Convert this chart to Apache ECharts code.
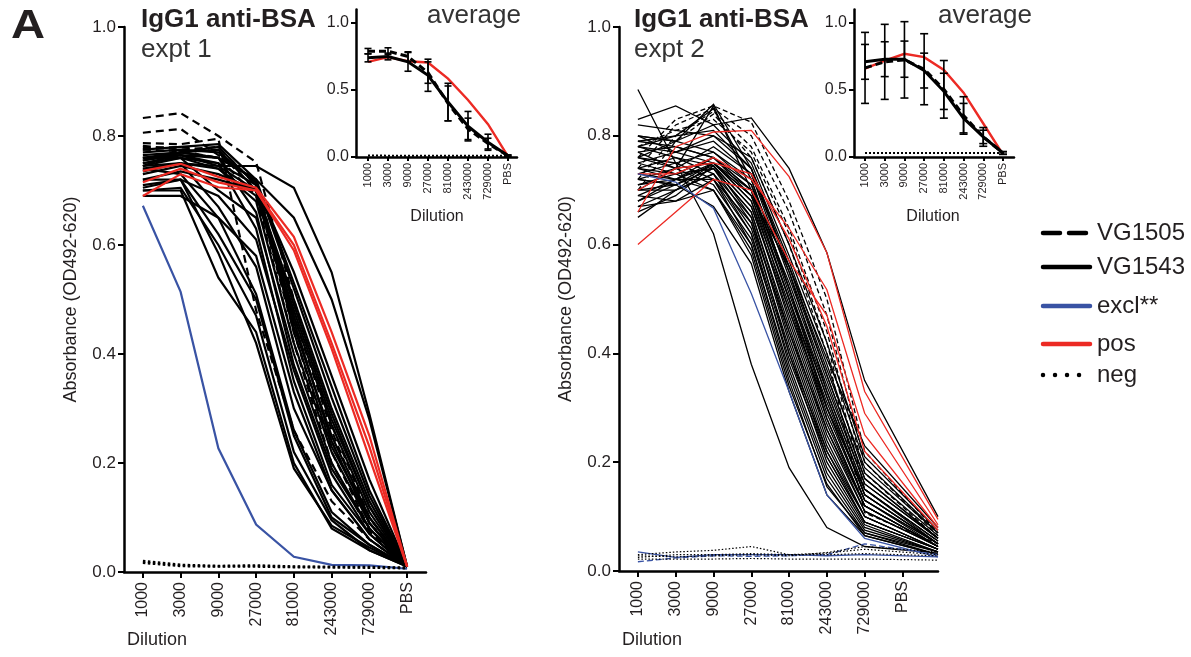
<!DOCTYPE html>
<html><head><meta charset="utf-8">
<script src="https://cdn.jsdelivr.net/npm/echarts@6/dist/echarts.min.js"></script>
<style>html,body{margin:0;padding:0;background:#fff}#c{width:1191px;height:657px}</style>
</head><body><div id="c"></div>
<script>
// ---------- tick labels / categories ----------
const dilutions = ['1000','3000','9000','27000','81000','243000','729000','PBS'];
// x position of each dilution step (category index) as plotted in each panel
const stepPos1 = [0,1,2,3,4,5,6,7];
const stepPos2 = [0,1,2,3,4,5,6,7.94];
const legendNames = ['VG1505','VG1543','excl**','pos','neg'];

// ---------- expt 1 individual curves ----------
const expt1_VG1505 = [
 [0.833,0.842,0.800,0.752,0.50,0.27,0.10,0.01],
 [0.806,0.813,0.765,0.720,0.46,0.24,0.09,0.01],
 [0.787,0.785,0.795,0.480,0.26,0.13,0.06,0.01],
 [0.782,0.775,0.780,0.710,0.47,0.26,0.09,0.01],
 [0.778,0.780,0.770,0.700,0.44,0.22,0.08,0.01],
 [0.775,0.772,0.760,0.690,0.42,0.20,0.075,0.01]
];
const expt1_VG1543 = [
 [0.755,0.765,0.745,0.745,0.705,0.55,0.29,0.01],
 [0.745,0.770,0.760,0.720,0.650,0.50,0.28,0.01],
 [0.700,0.700,0.540,0.440,0.200,0.080,0.040,0.01],
 [0.710,0.720,0.585,0.420,0.190,0.085,0.045,0.01],
 [0.720,0.720,0.620,0.500,0.250,0.100,0.050,0.01],
 [0.740,0.730,0.650,0.510,0.260,0.110,0.050,0.01],
 [0.745,0.750,0.670,0.560,0.300,0.150,0.060,0.01],
 [0.700,0.705,0.600,0.470,0.220,0.095,0.040,0.01],
 [0.760,0.765,0.750,0.630,0.350,0.160,0.070,0.01],
 [0.765,0.770,0.760,0.660,0.380,0.190,0.080,0.01],
 [0.750,0.760,0.740,0.680,0.420,0.220,0.090,0.01],
 [0.755,0.770,0.775,0.700,0.450,0.250,0.100,0.01],
 [0.760,0.770,0.780,0.710,0.470,0.270,0.110,0.01],
 [0.740,0.750,0.740,0.690,0.480,0.280,0.120,0.01],
 [0.730,0.745,0.730,0.700,0.500,0.300,0.130,0.01],
 [0.770,0.775,0.770,0.715,0.520,0.320,0.140,0.01],
 [0.750,0.765,0.760,0.720,0.530,0.340,0.150,0.01],
 [0.745,0.760,0.750,0.710,0.550,0.360,0.170,0.01],
 [0.720,0.735,0.720,0.700,0.460,0.240,0.090,0.01],
 [0.690,0.690,0.650,0.580,0.330,0.150,0.060,0.01],
 [0.705,0.720,0.690,0.610,0.370,0.180,0.070,0.01],
 [0.760,0.760,0.700,0.650,0.400,0.200,0.080,0.01],
 [0.775,0.780,0.785,0.720,0.440,0.230,0.100,0.01],
 [0.735,0.750,0.745,0.700,0.490,0.290,0.120,0.01]
];
const expt1_excl = [
 [0.672,0.514,0.227,0.087,0.028,0.013,0.012,0.006]
];
const expt1_pos = [
 [0.736,0.749,0.725,0.705,0.615,0.44,0.25,0.01],
 [0.690,0.730,0.706,0.700,0.600,0.42,0.23,0.01],
 [0.715,0.740,0.715,0.700,0.590,0.41,0.21,0.01]
];
const expt1_neg = [
 [0.020,0.013,0.011,0.012,0.010,0.009,0.009,0.008],
 [0.017,0.011,0.010,0.010,0.009,0.009,0.008,0.007]
];

// ---------- expt 2 individual curves ----------
const expt2_VG1505 = [
 [0.76,0.83,0.855,0.825,0.68,0.50,0.22,0.07],
 [0.74,0.82,0.850,0.800,0.66,0.47,0.20,0.065],
 [0.72,0.80,0.845,0.780,0.63,0.44,0.18,0.06],
 [0.70,0.79,0.840,0.760,0.60,0.40,0.107,0.05],
 [0.78,0.81,0.830,0.770,0.62,0.42,0.15,0.055]
];
const expt2_VG1543 = [
 [0.830,0.855,0.820,0.833,0.740,0.585,0.350,0.100],
 [0.885,0.750,0.620,0.380,0.190,0.080,0.045,0.033],
 [0.800,0.790,0.858,0.740,0.550,0.330,0.150,0.050],
 [0.780,0.800,0.850,0.720,0.520,0.300,0.130,0.045],
 [0.700,0.740,0.855,0.700,0.500,0.280,0.120,0.045],
 [0.800,0.790,0.770,0.720,0.520,0.320,0.140,0.050],
 [0.790,0.780,0.760,0.700,0.500,0.300,0.130,0.050],
 [0.780,0.770,0.750,0.690,0.480,0.280,0.120,0.045],
 [0.770,0.780,0.760,0.710,0.550,0.360,0.170,0.060],
 [0.760,0.740,0.750,0.680,0.460,0.260,0.110,0.045],
 [0.750,0.730,0.740,0.660,0.440,0.240,0.100,0.040],
 [0.740,0.760,0.745,0.670,0.470,0.270,0.120,0.045],
 [0.730,0.720,0.745,0.650,0.420,0.220,0.090,0.040],
 [0.720,0.710,0.740,0.640,0.400,0.200,0.085,0.035],
 [0.710,0.730,0.760,0.690,0.500,0.310,0.140,0.050],
 [0.700,0.700,0.730,0.620,0.380,0.190,0.080,0.035],
 [0.690,0.720,0.750,0.680,0.490,0.290,0.130,0.050],
 [0.680,0.710,0.740,0.660,0.450,0.250,0.110,0.045],
 [0.670,0.700,0.730,0.630,0.410,0.210,0.090,0.040],
 [0.660,0.690,0.745,0.670,0.480,0.300,0.150,0.055],
 [0.650,0.700,0.750,0.700,0.530,0.340,0.160,0.060],
 [0.800,0.770,0.800,0.740,0.570,0.380,0.180,0.065],
 [0.770,0.740,0.780,0.730,0.560,0.370,0.190,0.070],
 [0.760,0.750,0.720,0.600,0.360,0.170,0.070,0.035],
 [0.740,0.720,0.700,0.580,0.340,0.160,0.065,0.030],
 [0.720,0.740,0.710,0.610,0.390,0.210,0.090,0.040],
 [0.780,0.760,0.730,0.650,0.430,0.230,0.100,0.040],
 [0.750,0.770,0.790,0.730,0.540,0.350,0.160,0.060],
 [0.730,0.750,0.770,0.710,0.510,0.320,0.140,0.050],
 [0.710,0.720,0.720,0.640,0.440,0.260,0.120,0.045],
 [0.690,0.680,0.700,0.600,0.370,0.180,0.075,0.035],
 [0.680,0.720,0.760,0.700,0.520,0.330,0.150,0.055],
 [0.670,0.680,0.720,0.620,0.400,0.220,0.100,0.040],
 [0.760,0.790,0.820,0.750,0.580,0.400,0.200,0.070],
 [0.820,0.810,0.800,0.760,0.600,0.420,0.210,0.075],
 [0.790,0.800,0.810,0.740,0.560,0.360,0.170,0.060],
 [0.700,0.710,0.750,0.690,0.560,0.390,0.230,0.080],
 [0.720,0.710,0.670,0.565,0.330,0.140,0.065,0.030],
 [0.740,0.730,0.700,0.590,0.350,0.155,0.070,0.030]
];
const expt2_excl = [
 [0.730,0.715,0.667,0.510,0.330,0.140,0.060,0.026],
 [0.035,0.025,0.030,0.030,0.030,0.028,0.030,0.026]
];
const expt2_exclDashed = [
 [0.017,0.024,0.028,0.027,0.028,0.030,0.050,0.030]
];
const expt2_pos = [
 [0.600,0.660,0.720,0.700,0.570,0.470,0.250,0.080],
 [0.660,0.780,0.807,0.810,0.725,0.585,0.330,0.095],
 [0.730,0.730,0.760,0.720,0.630,0.517,0.290,0.085],
 [0.700,0.740,0.750,0.730,0.610,0.450,0.220,0.075]
];
const expt2_neg = [
 [0.030,0.035,0.038,0.045,0.030,0.033,0.040,0.030],
 [0.025,0.030,0.030,0.032,0.030,0.030,0.032,0.028],
 [0.022,0.022,0.022,0.023,0.022,0.022,0.022,0.020],
 [0.028,0.026,0.028,0.030,0.028,0.034,0.045,0.035]
];

// ---------- averages (insets) ----------
const avg1_VG1543 = [0.74,0.75,0.71,0.61,0.41,0.23,0.11,0.01];
const sd1_VG1543  = [0.03,0.025,0.07,0.12,0.14,0.11,0.06,0.005];
const avg1_VG1505 = [0.79,0.79,0.75,0.63,0.40,0.21,0.10,0.01];
const sd1_VG1505  = [0.02,0.025,0.035,0.08,0.13,0.08,0.04,0.005];
const avg1_pos    = [0.71,0.745,0.715,0.705,0.585,0.425,0.245,0.005];
const avg1_neg    = [0.012,0.010,0.010,0.010,0.010,0.010,0.010,0.008];

const avg2_VG1543 = [0.71,0.73,0.73,0.645,0.49,0.29,0.15,0.03];
const sd2_VG1543  = [0.13,0.13,0.135,0.13,0.135,0.11,0.05,0.01];
const avg2_VG1505 = [0.665,0.71,0.725,0.655,0.505,0.31,0.15,0.03];
const sd2_VG1505  = [0.265,0.28,0.285,0.265,0.215,0.14,0.07,0.01];
const avg2_pos    = [0.66,0.72,0.77,0.745,0.65,0.48,0.25,0.02];
const avg2_neg    = [0.03,0.03,0.03,0.03,0.03,0.03,0.03,0.03];

// ---------- styling ----------
const FF = '"Liberation Sans", Arial, Helvetica, sans-serif';
const TXT = '#231f20';
const BLACK = '#000000';
const BLUE = '#3953a4';
const RED = '#ec2a24';
const stepIdx = dilutions.map((_, i) => i);

function lineSet(rows, xs, axis, color, width, dash, z) {
  return rows.map(r => ({
    type: 'line', xAxisIndex: axis, yAxisIndex: axis,
    data: r.map((v, i) => [xs[i], v]),
    symbol: 'none', silent: true, animation: false, z: z,
    lineStyle: { color: color, width: width, type: dash || 'solid', cap: 'butt', join: 'miter' }
  }));
}
function errSeries(axis, mean, sd, xs, half) {
  return {
    type: 'custom', xAxisIndex: axis, yAxisIndex: axis, silent: true, animation: false, z: 6,
    data: mean.map((m, i) => [xs[i], m - sd[i], m + sd[i]]),
    encode: { x: 0, y: [1, 2] },
    renderItem: (p, api) => {
      const x = api.value(0);
      const a = api.coord([x, api.value(1)]), b = api.coord([x, api.value(2)]);
      const st = { stroke: '#000', lineWidth: 1.6 };
      return { type: 'group', children: [
        { type: 'line', shape: { x1: a[0], y1: a[1], x2: b[0], y2: b[1] }, style: st },
        { type: 'line', shape: { x1: a[0] - half, y1: a[1], x2: a[0] + half, y2: a[1] }, style: st },
        { type: 'line', shape: { x1: b[0] - half, y1: b[1], x2: b[0] + half, y2: b[1] }, style: st }
      ]};
    }
  };
}
function xAxisDef(grid, min, max, fs, margin, tickLen, lw) {
  return {
    type: 'value', gridIndex: grid, min: min, max: max,
    axisLine: { show: true, onZero: false, lineStyle: { color: BLACK, width: lw } },
    axisTick: { show: true, customValues: stepIdx, length: tickLen, lineStyle: { color: BLACK, width: lw * 0.8 } },
    axisLabel: { show: true, customValues: stepIdx, rotate: 90, margin: margin, fontSize: fs, color: TXT, fontFamily: FF,
      formatter: v => dilutions[Math.round(v)] },
    splitLine: { show: false }
  };
}
function yAxisDef(grid, max, ticks, fs, margin, tickLen, lw, name) {
  const ax = {
    type: 'value', gridIndex: grid, min: 0, max: max,
    axisLine: { show: true, onZero: false, lineStyle: { color: BLACK, width: lw } },
    axisTick: { show: true, customValues: ticks, length: tickLen, lineStyle: { color: BLACK, width: lw * 0.8 } },
    axisLabel: { show: true, customValues: ticks, fontSize: fs, margin: margin, color: TXT, fontFamily: FF, formatter: v => v.toFixed(1) },
    splitLine: { show: false }
  };
  if (name) {
    ax.name = name; ax.nameLocation = 'middle'; ax.nameGap = 44;
    ax.nameTextStyle = { fontSize: 18, color: TXT, fontFamily: FF };
  }
  return ax;
}

const mainTicks = [0, 0.2, 0.4, 0.6, 0.8, 1.0];
const insetTicks = [0, 0.5, 1.0];

const series = [].concat(
  // expt1 main (axis 0)
  lineSet(expt1_VG1543, stepPos1, 0, BLACK, 2.2, null, 2),
  lineSet(expt1_VG1505, stepPos1, 0, BLACK, 2.2, [8, 5], 3),
  lineSet(expt1_pos, stepPos1, 0, RED, 2.2, null, 4),
  lineSet(expt1_excl, stepPos1, 0, BLUE, 2.2, null, 4),
  lineSet(expt1_neg, stepPos1, 0, BLACK, 2.6, [2.5, 2.5], 4),
  // expt1 inset (axis 1)
  lineSet([avg1_pos], stepPos1, 1, RED, 2.4, null, 3),
  lineSet([avg1_neg], stepPos1, 1, BLACK, 2, [2, 2], 3),
  lineSet([avg1_VG1505], stepPos1, 1, BLACK, 3, [7, 4], 4),
  lineSet([avg1_VG1543], stepPos1, 1, BLACK, 3, null, 4),
  [errSeries(1, avg1_VG1505, sd1_VG1505, stepPos1, 3.5), errSeries(1, avg1_VG1543, sd1_VG1543, stepPos1, 3.5)],
  // expt2 main (axis 2)
  lineSet(expt2_VG1543, stepPos2, 2, BLACK, 1.3, null, 2),
  lineSet(expt2_VG1505, stepPos2, 2, BLACK, 1.3, [5, 3], 3),
  lineSet(expt2_pos, stepPos2, 2, RED, 1.3, null, 4),
  lineSet(expt2_excl, stepPos2, 2, BLUE, 1.3, null, 4),
  lineSet(expt2_exclDashed, stepPos2, 2, BLUE, 1.3, [6, 3], 4),
  lineSet(expt2_neg, stepPos2, 2, BLACK, 1.2, [1.5, 2], 4),
  // expt2 inset (axis 3)
  lineSet([avg2_pos], stepPos1, 3, RED, 2.4, null, 3),
  lineSet([avg2_neg], stepPos1, 3, BLACK, 2, [2, 2], 3),
  lineSet([avg2_VG1505], stepPos1, 3, BLACK, 3, [7, 4], 4),
  lineSet([avg2_VG1543], stepPos1, 3, BLACK, 3, null, 4),
  [errSeries(3, avg2_VG1505, sd2_VG1505, stepPos1, 4), errSeries(3, avg2_VG1543, sd2_VG1543, stepPos1, 4)]
);

function txt(x, y, s, size, weight, align, color, sx) {
  return { type: 'text', x: x, y: y, silent: true, z: 20, scaleX: sx || 1,
    style: { text: s, fill: color || TXT, font: (weight || 'normal') + ' ' + size + 'px ' + FF,
      textAlign: align || 'left', textVerticalAlign: 'middle' } };
}
function legLine(y, color, dash) {
  return { type: 'line', silent: true, z: 20,
    shape: { x1: 1043, y1: y, x2: 1090, y2: y },
    style: { stroke: color, lineWidth: 4.5, lineDash: dash || null, lineCap: 'round' } };
}
const legY = [233, 267, 306, 344, 375];
const graphics = [
  txt(11, 27, 'A', 41, 'bold', 'left', TXT, 1.15),
  txt(141, 20, 'IgG1 anti-BSA', 26, 'bold'),
  txt(141, 50, 'expt 1', 26, 'normal', 'left', '#333'),
  txt(427, 16, 'average', 26, 'normal', 'left', '#333'),
  txt(634, 20, 'IgG1 anti-BSA', 26, 'bold'),
  txt(634, 50, 'expt 2', 26, 'normal', 'left', '#333'),
  txt(938, 16, 'average', 26, 'normal', 'left', '#333'),
  txt(127, 640, 'Dilution', 18),
  txt(622, 640, 'Dilution', 18),
  txt(437, 217, 'Dilution', 16, 'normal', 'center'),
  txt(933, 217, 'Dilution', 16, 'normal', 'center'),
  legLine(legY[0], BLACK, [17, 9]),
  legLine(legY[1], BLACK),
  legLine(legY[2], BLUE),
  legLine(legY[3], RED),
  legLine(legY[4], BLACK, [0.01, 12]),
  ...legendNames.map((n, i) => txt(1097, legY[i], n, 24))
];

const option = {
  backgroundColor: '#ffffff',
  animation: false,
  grid: [
    { left: 124, top: 27, width: 302, height: 545 },
    { left: 356, top: 9.6, width: 161, height: 147.4 },
    { left: 619, top: 27, width: 319, height: 544 },
    { left: 854, top: 9.6, width: 160, height: 147.4 }
  ],
  xAxis: [
    xAxisDef(0, -0.5, 7.5, 16, 10, 6, 2.5),
    xAxisDef(1, -0.6, 7.45, 11, 6, 4, 2.5),
    xAxisDef(2, -0.5, 7.94, 16, 10, 6, 2.5),
    xAxisDef(3, -0.56, 7.56, 11, 6, 4, 2.5)
  ],
  yAxis: [
    yAxisDef(0, 1.0, mainTicks, 17, 8, 6, 2.5, 'Absorbance (OD492-620)'),
    yAxisDef(1, 1.1, insetTicks, 16, 7, 5, 2.5),
    yAxisDef(2, 1.0, mainTicks, 17, 8, 6, 2.5, 'Absorbance (OD492-620)'),
    yAxisDef(3, 1.1, insetTicks, 16, 7, 5, 2.5)
  ],
  series: series,
  graphic: graphics
};
const chart = echarts.init(document.getElementById('c'), null, { renderer: 'canvas' });
chart.setOption(option);
</script></body></html>
